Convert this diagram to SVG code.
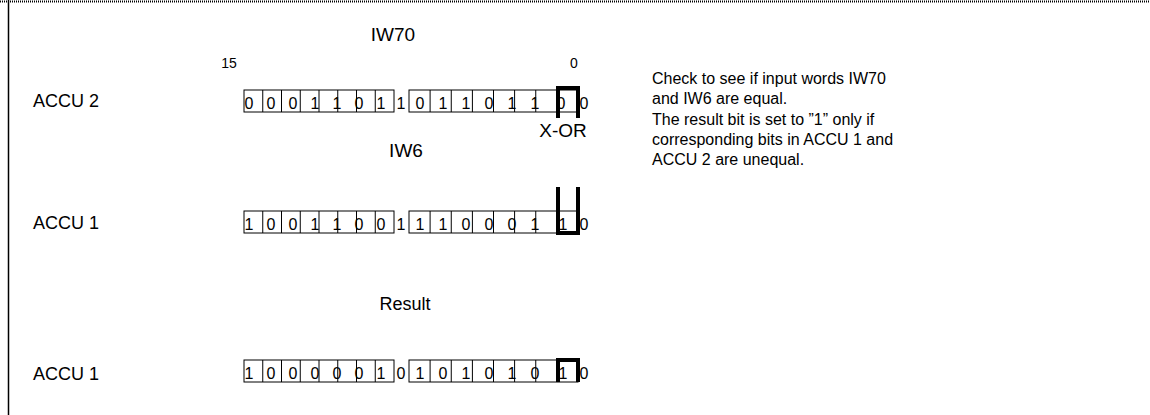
<svg xmlns="http://www.w3.org/2000/svg" width="1150" height="415" viewBox="0 0 1150 415">
<style>
text{font-family:"Liberation Sans",Arial,sans-serif;fill:#000}
.lbl{font-size:18px}
.big{font-size:19px;text-anchor:middle}
.note{font-size:16px}
.sm{font-size:14px}
.dg{font-size:16px;text-anchor:middle}
.cell{fill:none;stroke:#000;stroke-width:1}
.thick{fill:none;stroke:#000;stroke-width:4}
</style>
<rect width="1150" height="415" fill="#fff"/>
<g id="frame">
<line x1="0" y1="1.5" x2="1150" y2="1.5" stroke="#000" stroke-width="2" stroke-dasharray="1 1"/>
<line x1="8.5" y1="0" x2="8.5" y2="415" stroke="#000" stroke-width="1.5"/>
</g>
<g id="labels">
<text class="big" x="393" y="41">IW70</text>
<text class="sm" x="229" y="68" text-anchor="middle">15</text>
<text class="sm" x="574" y="68" text-anchor="middle">0</text>
<text class="lbl" x="33" y="107">ACCU 2</text>
<text class="big" x="563" y="137">X-OR</text>
<text class="big" x="406" y="157">IW6</text>
<text class="lbl" x="33" y="229">ACCU 1</text>
<text class="lbl" x="405" y="310" text-anchor="middle">Result</text>
<text class="lbl" x="33" y="380">ACCU 1</text>
</g>
<g id="note" class="note">
<text x="652" y="84">Check to see if input words IW70</text>
<text x="652" y="104">and IW6 are equal.</text>
<text x="652" y="125">The result bit is set to ”1” only if</text>
<text x="652" y="145">corresponding bits in ACCU 1 and</text>
<text x="652" y="165">ACCU 2 are unequal.</text>
</g>
<defs>
<g id="cells">
<rect class="cell" x="244" y="0" width="150" height="22"/>
<path class="cell" d="M262.75 0V22M281.5 0V22M300.25 0V22M319 0V22M337.75 0V22M356.5 0V22M375.25 0V22"/>
<rect class="cell" x="409" y="0" width="169" height="22"/>
<path class="cell" d="M430.1 0V22M451.25 0V22M472.4 0V22M493.5 0V22M514.6 0V22M535.75 0V22M556.9 0V22"/>
</g>
</defs>
<g id="connectors">
<path class="thick" d="M558 118V88H578V118"/>
<path class="thick" d="M558 187V233H578V187"/>
<path class="thick" d="M558 382V360H578V382"/>
</g>
<g id="accu2-row">
<use href="#cells" y="90"/>
<g class="dg">
<text x="249" y="109">0</text><text x="271" y="109">0</text><text x="293" y="109">0</text><text x="315" y="109">1</text><text x="337" y="109">1</text><text x="359" y="109">0</text><text x="381" y="109">1</text><text x="401" y="109">1</text>
<text x="420" y="109">0</text><text x="443" y="109">1</text><text x="466" y="109">1</text><text x="489" y="109">0</text><text x="512" y="109">1</text><text x="535" y="109">1</text><text x="561" y="109">0</text><text x="584" y="109">0</text>
</g>
</g>
<g id="accu1-row">
<use href="#cells" y="211"/>
<g class="dg">
<text x="249" y="230">1</text><text x="271" y="230">0</text><text x="293" y="230">0</text><text x="315" y="230">1</text><text x="337" y="230">1</text><text x="359" y="230">0</text><text x="381" y="230">0</text><text x="401" y="230">1</text>
<text x="420" y="230">1</text><text x="443" y="230">1</text><text x="466" y="230">0</text><text x="489" y="230">0</text><text x="512" y="230">0</text><text x="535" y="230">1</text><text x="563" y="230">1</text><text x="584" y="230">0</text>
</g>
</g>
<g id="result-row">
<use href="#cells" y="360"/>
<g class="dg">
<text x="249" y="379">1</text><text x="271" y="379">0</text><text x="293" y="379">0</text><text x="315" y="379">0</text><text x="337" y="379">0</text><text x="359" y="379">0</text><text x="381" y="379">1</text><text x="401" y="379">0</text>
<text x="420" y="379">1</text><text x="443" y="379">0</text><text x="466" y="379">1</text><text x="489" y="379">0</text><text x="512" y="379">1</text><text x="535" y="379">0</text><text x="563" y="379">1</text><text x="584" y="379">0</text>
</g>
</g>
</svg>
